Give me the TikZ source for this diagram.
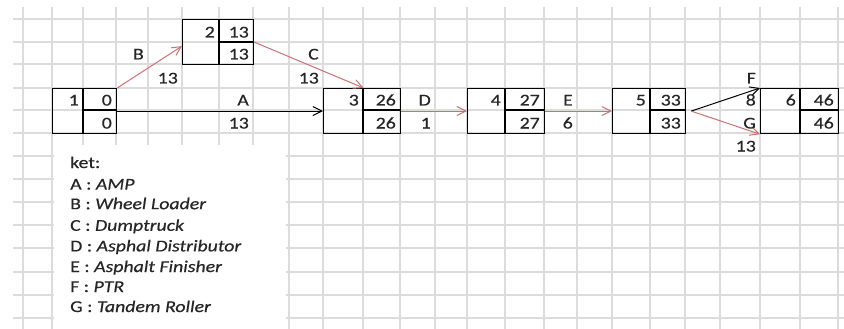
\documentclass[tikz,border=0pt]{standalone}
\usepackage{fontspec}
\setmainfont{Carlito}[FakeStretch=1.2, FakeBold=0.4]
\usetikzlibrary{arrows.meta}

\definecolor{gridgray}{RGB}{220,220,220}
\definecolor{actred}{RGB}{200,115,115}

\tikzset{
  cellfont/.style={font=\fontsize{16.5}{19}\selectfont},
  celltext/.style={cellfont, anchor=base east, inner sep=0pt, text=black!85},
  legendtext/.style={cellfont, anchor=base west, inner sep=0pt, text=black!85},
  evbox/.style={draw=black, line width=1.2pt, inner sep=0pt, anchor=north west},
  evline/.style={draw=black, line width=1.2pt},
  gridline/.style={draw=gridgray, line width=1.1pt},
  act/.style={line width=1pt, -{Straight Barb[length=9pt,width=9pt,line width=1pt]}},
  critical/.style={act, draw=actred},
  normal/.style={act, draw=black}
}

% event box: name, x-left, x-divider, x-right, y-top, y-divider, y-bottom, number
\newcommand{\eventbox}[8]{%
  \node[evbox, minimum width={#4-#2}, minimum height={#7-#5}] (#1) at (#2,#5) {};
  \draw[evline] (#3,#5) -- (#3,#7) (#3,#6) -- (#4,#6);
  \node[celltext] (#1-num) at ({#3-4},{#6-4.5}) {#8};
}

\begin{document}
\begin{tikzpicture}[x=1pt, y=-1pt]
  \useasboundingbox (0,0) rectangle (844,329);
  \fill[white] (0,0) rectangle (844,329);

  % spreadsheet grid
  \foreach \r in {19,42,64,88,110,133,156,179,202,225,248,272,295,318}
    \draw[gridline] (13,\r) -- (844,\r);
  \foreach \c in {23,52,83,116,148,182,219,253,289,323,363,400,435,467,505,544,577,612,650,685,720,760,800,838}
    \draw[gridline] (\c,7) -- (\c,329);

  % legend text box
  \fill[white] (53.5,145) rectangle (286,329);

  % event nodes
  \eventbox{n1}{52}{83}{116}{88}{110}{133}{1}
  \node[celltext] (n1-es) at (112,105.5) {0};
  \node[celltext] (n1-lf) at (112,128.5) {0};

  \eventbox{n2}{182}{219}{253}{19}{42}{64}{2}
  \node[celltext] (n2-es) at (249,37.5) {13};
  \node[celltext] (n2-lf) at (249,59.5) {13};

  \eventbox{n3}{323}{363}{400}{88}{110}{133}{3}
  \node[celltext] (n3-es) at (396,105.5) {26};
  \node[celltext] (n3-lf) at (396,128.5) {26};

  \eventbox{n4}{467}{505}{544}{88}{110}{133}{4}
  \node[celltext] (n4-es) at (540,105.5) {27};
  \node[celltext] (n4-lf) at (540,128.5) {27};

  \eventbox{n5}{612}{650}{685}{88}{110}{133}{5}
  \node[celltext] (n5-es) at (681,105.5) {33};
  \node[celltext] (n5-lf) at (681,128.5) {33};

  \eventbox{n6}{760}{800}{838}{88}{110}{133}{6}
  \node[celltext] (n6-es) at (834,105.5) {46};
  \node[celltext] (n6-lf) at (834,128.5) {46};

  % activities
  \draw[normal]   (n1.east) -- (n3.west);
  \draw[critical] (n1.north east) -- ([yshift=-4pt]n2.west);
  \draw[critical] (n2.east) -- ([xshift=1.5pt]n3.north);
  \draw[critical] (n3.east) -- (n4.west);
  \draw[critical] (n4.east) -- (n5.west);
  \coordinate (fork) at ([xshift=5pt]n5.east);
  \draw[normal]   (fork) -- (n6.north west);
  \draw[critical] (fork) -- (n6.south west);

  % activity labels and durations
  \node[celltext] (lA)  at (249,105.5) {A};
  \node[celltext] (dA)  at (249,128.5) {13};
  \node[celltext] (lB)  at (144,59.5)  {B};
  \node[celltext] (dB)  at (178,83.5)  {13};
  \node[celltext] (lC)  at (319,59.5)  {C};
  \node[celltext] (dC)  at (319,83.5)  {13};
  \node[celltext] (lD)  at (431,105.5) {D};
  \node[celltext] (dD)  at (431,128.5) {1};
  \node[celltext] (lE)  at (573,105.5) {E};
  \node[celltext] (dE)  at (573,128.5) {6};
  \node[celltext] (lF)  at (756,83.5)  {F};
  \node[celltext] (dF)  at (756,105.5) {8};
  \node[celltext] (lG)  at (756,128.5) {G};
  \node[celltext] (dG)  at (756,151.5) {13};

  % legend
  \node[legendtext] (k0) at (70,168)   {ket:};
  \node[legendtext] (k1) at (70,189.6) {A : \textit{AMP}};
  \node[legendtext] (k2) at (70,209.2) {B : \textit{Wheel Loader}};
  \node[legendtext] (k3) at (70,230.8) {C : \textit{Dumptruck}};
  \node[legendtext] (k4) at (70,251.4) {D : \textit{Asphal Distributor}};
  \node[legendtext] (k5) at (70,272)   {E : \textit{Asphalt Finisher}};
  \node[legendtext] (k6) at (70,292)   {F : \textit{PTR}};
  \node[legendtext] (k7) at (70,312)   {G : \textit{Tandem Roller}};
\end{tikzpicture}
\end{document}
